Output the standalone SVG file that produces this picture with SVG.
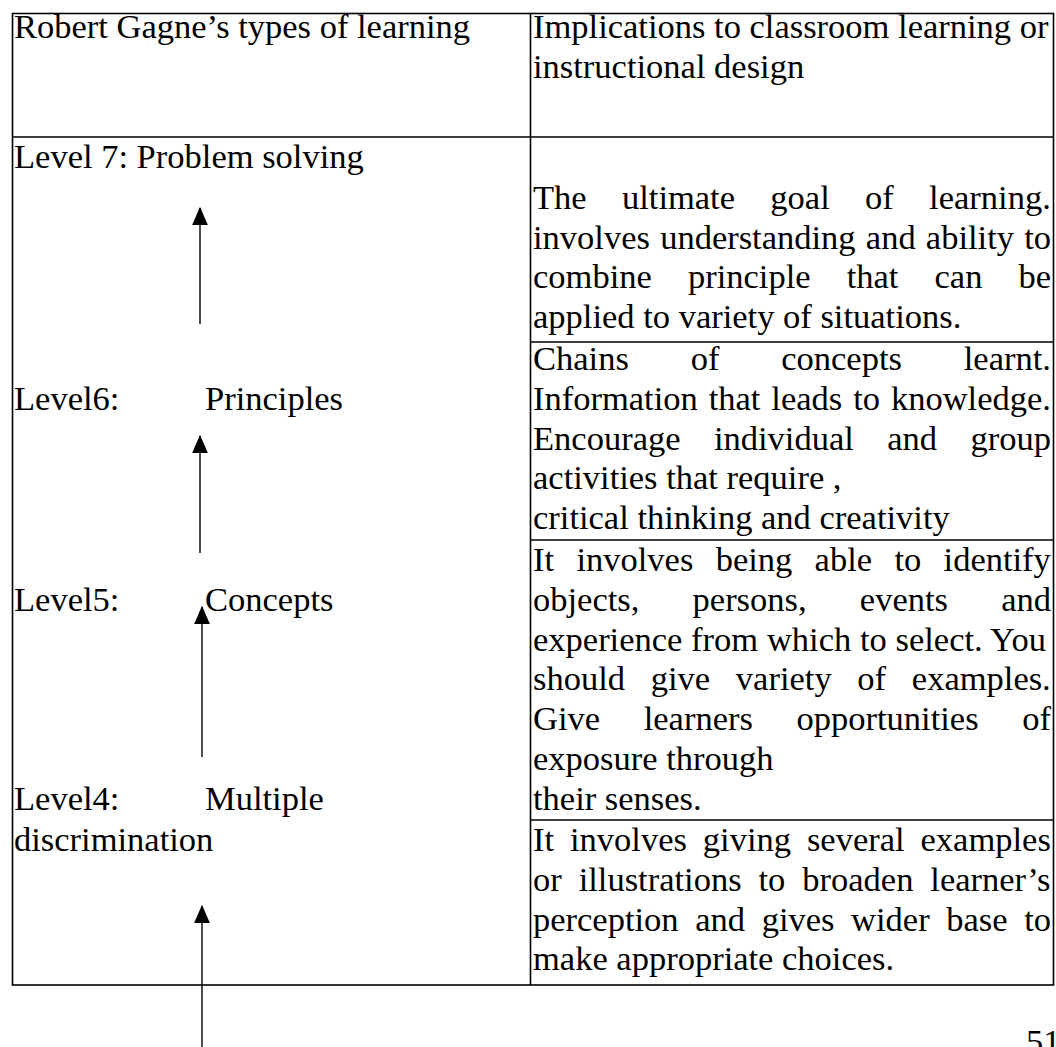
<svg xmlns="http://www.w3.org/2000/svg" width="1056" height="1047" viewBox="0 0 1056 1047">
<style>
text{font-family:"Liberation Serif","Times New Roman",serif;font-size:34.5px;fill:#000}
.b{fill:none;stroke:#000;stroke-width:1.6}
.c{stroke:#000;stroke-width:1.4;fill:none}
</style>
<defs>
<marker id="ah" markerUnits="userSpaceOnUse" markerWidth="18" markerHeight="16" viewBox="0 0 16 14" refX="15" refY="7" orient="auto">
<path d="M0,0 L16,7 L0,14 Z" fill="#000"/>
</marker>
</defs>
<rect width="1056" height="1047" fill="#fff"/>
<g id="table">
<rect class="b" x="12.5" y="13.5" width="1041" height="971.5"/>
<line class="b" x1="530.5" y1="13.5" x2="530.5" y2="985"/>
<line class="b" x1="12.5" y1="137" x2="1053.5" y2="137"/>
<line class="b" x1="530.5" y1="342" x2="1053.5" y2="342"/>
<line class="b" x1="530.5" y1="540" x2="1053.5" y2="540"/>
<line class="b" x1="530.5" y1="820" x2="1053.5" y2="820"/>
</g>
<g id="header-left"><text x="14" y="38">Robert Gagne’s types of learning</text></g>
<g id="header-right"><text x="533" y="38">Implications to classroom learning or</text><text x="533" y="77.8">instructional design</text></g>
<g id="level7"><text x="14" y="168">Level 7: Problem solving</text></g>
<g id="level6"><text x="14" y="409.8">Level6:</text><text x="205" y="409.8">Principles</text></g>
<g id="level5"><text x="14" y="610.8">Level5:</text><text x="205" y="610.8">Concepts</text></g>
<g id="level4"><text x="14" y="809.8">Level4:</text><text x="205" y="809.8">Multiple</text><text x="14" y="851">discrimination</text></g>
<g id="impl7">
<text x="533" y="208.8" word-spacing="26.7">The ultimate goal of learning.</text>
<text x="533" y="248.6" word-spacing="1.6">involves understanding and ability to</text>
<text x="533" y="288.4" word-spacing="27.5">combine principle that can be</text>
<text x="533" y="328.2">applied to variety of situations.</text>
</g>
<g id="impl6">
<text x="533" y="370" word-spacing="53.2">Chains of concepts learnt.</text>
<text x="533" y="409.8" word-spacing="2.3">Information that leads to knowledge.</text>
<text x="533" y="449.6" word-spacing="24.8">Encourage individual and group</text>
<text x="533" y="489.4">activities that require ,</text>
<text x="533" y="529.2">critical thinking and creativity</text>
</g>
<g id="impl5">
<text x="533" y="571" word-spacing="13.7">It involves being able to identify</text>
<text x="533" y="610.8" word-spacing="44.6">objects, persons, events and</text>
<text x="533" y="650.6" word-spacing="0.1">experience from which to select. You</text>
<text x="533" y="690.4" word-spacing="17.1">should give variety of examples.</text>
<text x="533" y="730.2" word-spacing="35">Give learners opportunities of</text>
<text x="533" y="770">exposure through</text>
<text x="533" y="809.8">their senses.</text>
</g>
<g id="impl4">
<text x="533" y="851" word-spacing="7.3">It involves giving several examples</text>
<text x="533" y="890.8" word-spacing="8.3">or illustrations to broaden learner’s</text>
<text x="533" y="930.6" word-spacing="8">perception and gives wider base to</text>
<text x="533" y="970.4">make appropriate choices.</text>
</g>
<g id="page-number"><text x="1026" y="1053">51</text></g>
<g id="connectors">
<line class="c" x1="200" y1="324" x2="200" y2="208" marker-end="url(#ah)"/>
<line class="c" x1="200" y1="553" x2="200" y2="436" marker-end="url(#ah)"/>
<line class="c" x1="202" y1="757" x2="202" y2="607" marker-end="url(#ah)"/>
<line class="c" x1="202" y1="1047" x2="202" y2="906" marker-end="url(#ah)"/>
</g>
</svg>
